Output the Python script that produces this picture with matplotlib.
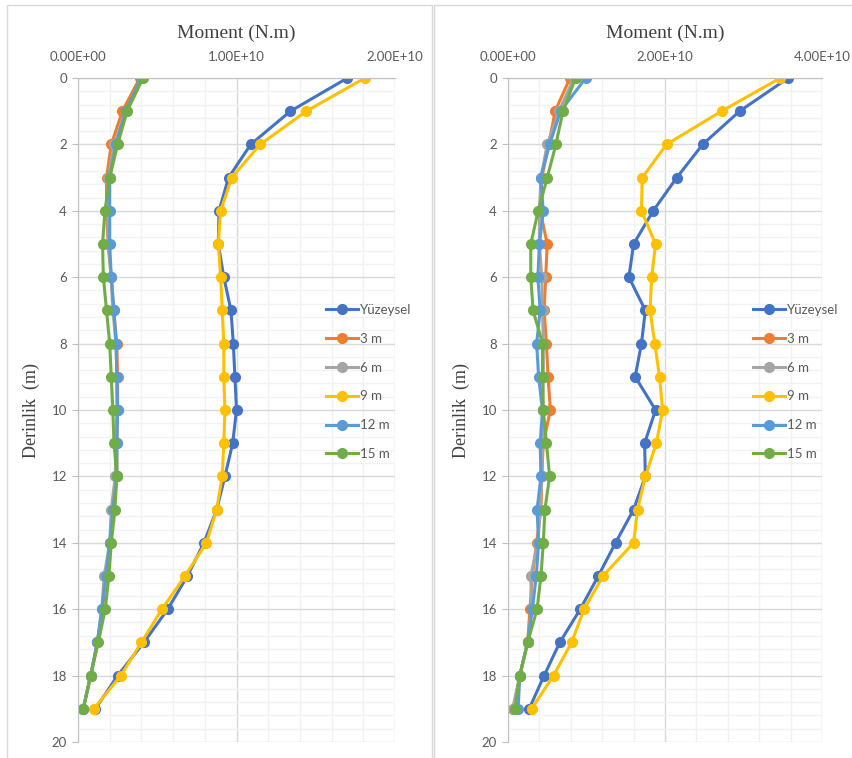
import matplotlib.pyplot as plt
from matplotlib.ticker import MultipleLocator, FuncFormatter
from matplotlib.patches import Rectangle

depth = list(range(20))
labels = ['Yüzeysel', '3 m', '6 m', '9 m', '12 m', '15 m']
colors = ['#4472C4', '#ED7D31', '#A5A5A5', '#FFC000', '#5B9BD5', '#70AD47']

# left chart, values in 1e10 N.m
left_yuzeysel = [1.70, 1.34, 1.09, 0.95, 0.89, 0.885, 0.92, 0.965, 0.98, 0.99,
                 1.00, 0.976, 0.927, 0.875, 0.795, 0.69, 0.566, 0.416, 0.25, 0.11]
left_3m = [0.39, 0.28, 0.21, 0.18, 0.18, 0.19, 0.21, 0.225, 0.245, 0.25,
           0.25, 0.245, 0.245, 0.22, 0.205, 0.175, 0.155, 0.122, 0.08, 0.033]
left_6m = [0.40, 0.30, 0.23, 0.19, 0.19, 0.19, 0.21, 0.22, 0.24, 0.245,
           0.245, 0.24, 0.235, 0.21, 0.20, 0.165, 0.15, 0.122, 0.08, 0.033]
left_9m = [1.81, 1.44, 1.15, 0.97, 0.90, 0.885, 0.90, 0.91, 0.92, 0.92,
           0.927, 0.92, 0.91, 0.875, 0.81, 0.675, 0.53, 0.40, 0.27, 0.10]
left_12m = [0.40, 0.30, 0.24, 0.20, 0.20, 0.20, 0.21, 0.227, 0.24, 0.245,
            0.25, 0.245, 0.245, 0.22, 0.20, 0.177, 0.15, 0.122, 0.08, 0.033]
left_15m = [0.41, 0.31, 0.25, 0.20, 0.17, 0.155, 0.16, 0.18, 0.20, 0.21,
            0.22, 0.227, 0.245, 0.233, 0.21, 0.195, 0.172, 0.128, 0.08, 0.033]

# right chart, values in 1e10 N.m
right_yuzeysel = [3.57, 2.95, 2.48, 2.15, 1.85, 1.60, 1.54, 1.75, 1.70, 1.62,
                  1.88, 1.74, 1.75, 1.60, 1.37, 1.15, 0.92, 0.66, 0.46, 0.27]
right_3m = [0.79, 0.60, 0.52, 0.43, 0.41, 0.50, 0.48, 0.46, 0.49, 0.51,
            0.54, 0.45, 0.43, 0.42, 0.365, 0.31, 0.28, 0.25, 0.15, 0.07]
right_6m = [0.84, 0.65, 0.50, 0.42, 0.40, 0.40, 0.43, 0.44, 0.45, 0.45,
            0.44, 0.44, 0.43, 0.41, 0.38, 0.29, 0.30, 0.25, 0.15, 0.06]
right_9m = [3.47, 2.72, 2.02, 1.71, 1.70, 1.88, 1.83, 1.81, 1.87, 1.93,
            1.97, 1.89, 1.75, 1.65, 1.60, 1.21, 0.97, 0.81, 0.58, 0.30]
right_12m = [0.99, 0.67, 0.53, 0.415, 0.45, 0.40, 0.38, 0.41, 0.365, 0.39,
             0.44, 0.41, 0.42, 0.37, 0.39, 0.36, 0.31, 0.25, 0.15, 0.13]
right_15m = [0.86, 0.70, 0.61, 0.50, 0.385, 0.29, 0.29, 0.32, 0.44, 0.44,
             0.45, 0.49, 0.53, 0.47, 0.45, 0.42, 0.37, 0.25, 0.15, 0.09]

left_series = [left_yuzeysel, left_3m, left_6m, left_9m, left_12m, left_15m]
right_series = [right_yuzeysel, right_3m, right_6m, right_9m, right_12m, right_15m]

W, H = 853, 758
fig = plt.figure(figsize=(W / 100, H / 100), dpi=100)

tick_font = 'Lato'
tick_color = '#595959'


def sci(v, pos):
    return f'{v:.2E}'


def make_panel(rect, series, xmax, xmajor, legend_x):
    ax = fig.add_axes(rect)
    for vals, lab, c in zip(series, labels, colors):
        ax.plot([v * 1e10 for v in vals], depth, color=c, lw=2.2,
                marker='o', ms=7, label=lab, solid_joinstyle='round')
    ax.set_xlim(0, xmax)
    ax.set_ylim(20, 0)
    ax.xaxis.set_major_locator(MultipleLocator(xmajor))
    ax.xaxis.set_minor_locator(MultipleLocator(xmajor / 5))
    ax.yaxis.set_major_locator(MultipleLocator(2))
    ax.yaxis.set_minor_locator(MultipleLocator(0.4))
    ax.xaxis.set_major_formatter(FuncFormatter(sci))
    ax.xaxis.tick_top()
    ax.xaxis.set_label_position('top')
    ax.grid(which='major', color='#D9D9D9', lw=1.0)
    ax.grid(which='minor', color='#F2F2F2', lw=1.0)
    ax.set_axisbelow(True)
    for s in ax.spines.values():
        s.set_visible(False)
    ax.spines['left'].set_visible(True)
    ax.spines['left'].set_color('#BFBFBF')
    ax.spines['top'].set_visible(True)
    ax.spines['top'].set_color('#BFBFBF')
    ax.tick_params(which='major', length=4, color='#BFBFBF', labelsize=9.5,
                   labelcolor=tick_color, pad=4)
    ax.tick_params(which='minor', length=0)
    ax.tick_params(axis='x', which='major', length=0, pad=11)
    for t in ax.get_xticklabels() + ax.get_yticklabels():
        t.set_fontfamily(tick_font)
    ax.set_xlabel('Moment (N.m)', fontsize=14, family='Liberation Serif',
                  color='#404040', labelpad=9)
    ax.set_ylabel('Derinlik  (m)', fontsize=13, family='Liberation Serif',
                  color='#404040', labelpad=8)
    ax.legend(loc='center left', bbox_to_anchor=(legend_x / W, 1 - 382 / H),
              bbox_transform=fig.transFigure, frameon=False,
              prop={'family': tick_font, 'size': 9.5}, labelcolor=tick_color,
              handlelength=2.4, handletextpad=0.15, labelspacing=1.27,
              borderaxespad=0, borderpad=0)
    return ax


make_panel([78 / W, 1 - 742 / H, 317 / W, 664 / H], left_series, 2e10, 1e10, 326)
make_panel([508 / W, 1 - 742 / H, 314 / W, 664 / H], right_series, 4e10, 2e10, 753)

# chart borders
fig.patches.append(Rectangle((7 / W, -0.01), 425 / W, 1 - 5 / H + 0.01,
                             transform=fig.transFigure, fill=False,
                             edgecolor='#D9D9D9', lw=1))
fig.patches.append(Rectangle((434 / W, -0.01), 430 / W, 1 - 5 / H + 0.01,
                             transform=fig.transFigure, fill=False,
                             edgecolor='#D9D9D9', lw=1))

fig.savefig('out.png', dpi=100)
